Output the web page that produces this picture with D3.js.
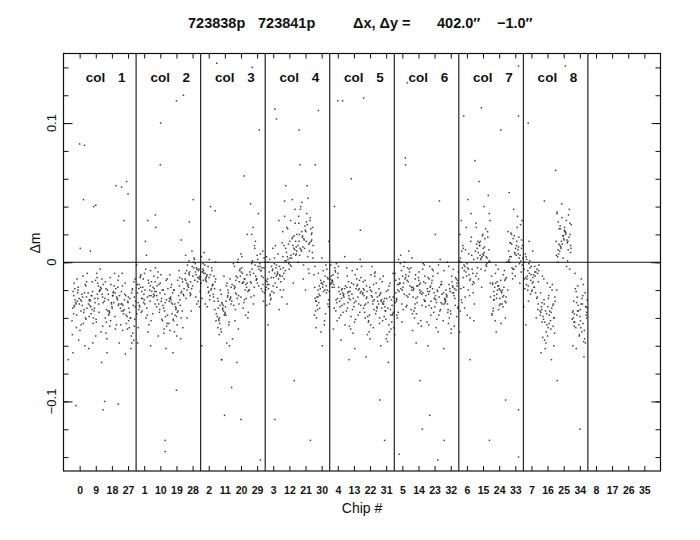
<!DOCTYPE html>
<html><head><meta charset="utf-8">
<script src="https://cdn.jsdelivr.net/npm/d3@7"></script>
<style>
html,body{margin:0;padding:0;background:#fff;}
svg{display:block;font-family:"Liberation Sans",Arial,sans-serif;}
</style></head>
<body>
<svg id="chart" width="700" height="540"></svg>
<script>
// Chip labels along the x axis (slot order)
const chipLabels = ["0","9","18","27","1","10","19","28","2","11","20","29","3","12","21","30",
  "4","13","22","31","5","14","23","32","6","15","24","33","7","16","25","34","8","17","26","35"];
const colLabels = ["1","2","3","4","5","6","7","8"];
const yMajorTicks = [-0.1, 0, 0.1];
const yMinorTicks = [-0.14,-0.12,-0.1,-0.08,-0.06,-0.04,-0.02,0,0.02,0.04,0.06,0.08,0.1,0.12,0.14];
const titleParts = ["723838p", "723841p", "\u0394x, \u0394y =", "402.0\u2033", "\u22121.0\u2033"];

// Δm values (in units of 0.001 mag), per chip, grouped by column
const col1 = [
 [-28,-15,-40,-22,-33,-10,-47,-25,-30,-19,-36,-52,-27,-12,-41,-24,-31,-18,-60,-29,-35,-21,-44,-26,-8,-38,-23,-32,-16,-49,-27,-34,-20,-42,-25,-30,-14,-56,-37,-22,-28,-45,-31,-17,85,-103,45,-65,10,-33],
 [-25,-13,-37,-20,-30,-8,-44,-23,-28,-17,-33,-50,-24,-11,-39,-21,-29,-16,-58,-26,-32,-19,-41,-24,-5,-35,-22,-30,-14,-46,-26,-31,-18,-40,-23,-27,-12,-53,-34,-20,-27,-43,-29,-15,8,-72,40,-62,-36,-21],
 [-31,-19,-8,-42,-26,-35,-22,-14,-48,-29,-24,-37,-17,-55,-27,-33,-20,-45,-11,-28,-39,-23,-30,-16,-51,-25,-36,-21,-43,-13,-32,-27,-19,-40,-24,-58,-29,-34,-18,-46,-26,-22,-38,-10,-30,-65,55,-100,-24,-35],
 [-35,-22,-48,-28,-15,-40,-31,-56,-25,-37,-19,-44,-33,-62,-27,-12,-39,-30,-51,-24,-36,-17,-46,-29,-34,-58,-21,-42,-32,-26,-49,-14,-38,-30,-53,-23,-41,-28,-35,-20,-45,-33,-66,-25,-8,-40,58,-31,30,-47]
];
const col2 = [
 [-20,-8,-32,-15,-26,-2,-38,-18,-24,-12,-29,-45,-21,-5,-34,-17,-27,-10,-50,-22,-30,-14,-40,-19,-28,-35,-16,-25,-9,-42,-23,-31,-13,-37,-20,-26,-6,-47,-33,-18,-24,-11,15,-58,30,-29,-21,-36,5,-16],
 [-24,-12,-36,-19,-29,-7,-41,-21,-27,-15,-32,-48,-23,-9,-38,-20,-30,-13,-53,-25,-33,-17,-44,-22,-4,-35,-18,-28,-11,-46,-24,-31,-16,-39,-21,-26,-10,-51,-34,-19,-27,-42,-14,-62,100,25,-23,-30,-37,-20],
 [-27,-14,-39,-22,-31,-9,-45,-24,-29,-18,-35,-50,-26,-11,-41,-23,-33,-16,-55,-28,-36,-20,-47,-25,-6,-38,-21,-30,-13,-49,-27,-34,-19,-42,-24,-29,-12,-53,-37,-22,-30,-44,-17,-65,120,-32,-26,-40,-20,-35],
 [-10,2,-20,-6,-14,5,-25,-9,-12,-3,-17,-30,-8,0,-22,-5,-15,-1,-35,-11,-18,-4,-26,-9,8,-21,-7,-13,-2,-28,-10,-16,-5,-23,-12,-7,1,-32,-19,-6,-14,-24,3,-40,-11,-17,-8,-4,-13,45]
];
const col3 = [
 [-12,0,-22,-8,-16,4,-27,-11,-14,-5,-19,-32,-10,-2,-24,-7,-17,-3,-37,-13,-20,-6,-28,-11,7,-23,-9,-15,-4,-30,-12,-18,-7,-25,-14,-9,-1,-34,-21,-8,-16,-26,2,-42,40,-13,-19,-10,-60,-6],
 [-30,-18,-42,-25,-35,-12,-48,-28,-33,-22,-38,-55,-29,-15,-44,-26,-36,-20,-60,-31,-39,-24,-50,-28,-10,-41,-27,-34,-17,-52,-30,-37,-23,-45,-28,-32,-16,-58,-40,-25,-33,-47,-20,-70,-90,-110,-31,-43,-26,-38],
 [-15,-3,-27,-10,-20,2,-33,-13,-18,-7,-23,-38,-14,-1,-29,-11,-21,-5,-42,-16,-24,-8,-34,-15,6,-26,-12,-19,-4,-36,-15,-22,-9,-30,-17,-12,0,-40,-25,-10,-20,-31,4,-48,20,-18,-14,-6,-26,-72],
 [-5,8,-15,0,-10,15,-20,-3,-8,3,-13,-25,-4,10,-17,-1,-11,5,-30,-6,-14,2,-22,-5,20,-16,-2,-9,6,-24,-4,-12,1,-19,-7,-3,12,-28,-15,-1,-10,-21,25,35,42,-6,-12,0,-18,95]
];
const col4 = [
 [-10,2,-20,-6,-14,6,-26,-8,-12,-3,-17,-30,-9,4,-22,-5,-15,0,-34,-11,-18,-2,-24,-10,10,-19,-7,-13,-1,-27,-9,-16,-4,-21,-12,-7,3,-31,-18,-5,-14,-23,12,-45,30,-11,-16,-8,-3,-20],
 [5,-8,15,0,10,-15,22,3,8,-3,12,28,4,-10,18,1,11,-5,33,6,14,-2,25,5,-20,17,2,9,-6,30,4,12,-1,20,7,3,-12,38,15,1,10,24,-25,45,55,6,13,-4,19,-30],
 [15,3,27,10,20,-2,33,13,18,7,23,40,14,0,29,11,21,5,46,16,24,8,35,15,-8,26,12,19,4,38,15,22,9,30,17,12,-5,43,25,10,20,32,-12,55,70,16,-20,22,8,28],
 [-20,-8,-32,-15,-25,-2,-38,-18,-23,-12,-28,-45,-19,-5,-34,-16,-26,-10,-50,-21,-29,-14,-40,-20,3,-31,-17,-24,-9,-42,-20,-27,-13,-35,-22,-17,-6,-47,-30,-15,-25,-37,-3,-60,15,-21,-28,-11,-33,-18]
];
const col5 = [
 [-18,-6,-30,-13,-23,-1,-36,-16,-21,-10,-26,-42,-17,-4,-32,-14,-24,-8,-48,-19,-27,-12,-38,-18,4,-29,-15,-22,-7,-40,-18,-25,-11,-33,-20,-15,-3,-45,-28,-13,-23,-35,-2,-56,40,-19,-26,-9,-31,-16],
 [-21,-9,-33,-16,-26,-3,-39,-19,-24,-13,-29,-46,-20,-6,-35,-17,-27,-11,-51,-22,-30,-15,-41,-21,2,-32,-18,-25,-10,-43,-21,-28,-14,-36,-23,-18,-5,-48,-31,-16,-26,-38,-4,-62,60,-22,-29,-12,-34,-19],
 [-25,-13,-37,-20,-30,-8,-43,-23,-28,-17,-33,-50,-24,-10,-39,-21,-31,-15,-55,-26,-34,-19,-45,-25,-3,-36,-22,-29,-14,-47,-25,-32,-18,-40,-27,-22,-9,-52,-35,-20,-30,-42,-7,-68,-24,-33,-16,-38,-28,-21],
 [-30,-17,-42,-25,-35,-12,-48,-28,-33,-22,-38,-55,-29,-15,-44,-26,-36,-20,-60,-31,-39,-24,-50,-30,-8,-41,-27,-34,-19,-52,-30,-37,-23,-45,-32,-27,-14,-57,-40,-25,-35,-47,-10,-72,-28,-43,-21,-33,-38,-26]
];
const col6 = [
 [-15,-3,-27,-10,-20,2,-32,-13,-18,-7,-23,-38,-14,-1,-29,-11,-21,-5,-43,-16,-24,-8,-34,-15,8,-26,-12,-19,-4,-36,-15,-22,-9,-30,-17,-12,0,-40,-25,-10,-20,-31,5,-52,75,-16,-23,-6,-28,-13],
 [-20,-7,-32,-15,-25,-2,-37,-18,-23,-12,-28,-44,-19,-5,-34,-16,-26,-10,-49,-21,-29,-14,-40,-20,3,-31,-17,-24,-9,-42,-20,-27,-13,-35,-22,-17,-4,-46,-30,-15,-25,-37,-1,-58,-22,-18,-28,-11,-33,-120],
 [-21,-8,-33,-16,-26,-3,-38,-19,-24,-13,-29,-45,-20,-6,-35,-17,-27,-11,-50,-22,-30,-15,-41,-21,2,-32,-18,-25,-10,-43,-21,-28,-14,-36,-23,-18,-5,-47,-31,-16,-26,-38,-2,-60,20,-23,-29,-12,-34,-19],
 [-22,-10,-34,-17,-27,-5,-40,-20,-25,-14,-30,-46,-21,-7,-36,-18,-28,-12,-51,-23,-31,-16,-42,-22,0,-33,-19,-26,-11,-44,-22,-29,-15,-37,-24,-19,-6,-48,-32,-17,-27,-39,-3,-62,-24,-30,-13,-35,-20,-26]
];
const col7 = [
 [-5,12,-20,3,-12,25,-30,-2,-9,8,-16,-38,-4,18,-25,1,-13,10,-42,-7,-19,5,-33,-5,30,-22,-1,-11,15,-35,-4,-15,6,-27,-8,-3,20,-40,-18,2,-10,-29,35,-50,45,-6,-14,0,-24,9],
 [5,-6,15,0,10,-12,22,3,8,-2,12,30,4,-8,18,2,11,-4,35,6,14,-1,25,5,-15,17,3,9,-5,28,4,12,0,20,7,3,-10,40,15,1,10,24,-18,48,58,7,13,-3,19,-25],
 [-20,-10,-30,-15,-25,-5,-35,-18,-23,-13,-27,-40,-19,-8,-32,-16,-26,-11,-44,-21,-28,-14,-37,-20,-2,-29,-17,-24,-9,-38,-20,-26,-12,-33,-22,-17,-6,-42,-30,-15,-25,-34,0,-50,-21,-27,-13,-31,-18,-24],
 [5,-5,15,0,10,-10,20,3,8,-3,12,25,4,-7,17,1,11,-4,30,6,14,-1,22,5,-12,16,2,9,-5,27,4,12,0,18,7,3,-8,33,14,1,10,21,-15,38,-20,6,13,-2,19,50]
];
const col8 = [
 [-10,0,-20,-6,-14,4,-25,-8,-12,-3,-17,-30,-9,2,-22,-5,-15,-1,-34,-11,-18,-4,-26,-10,8,-19,-7,-13,-2,-28,-9,-16,-5,-21,-12,-7,1,-32,-18,-6,-14,-23,6,-40,15,-11,-45,-8,-3,-20],
 [-35,-22,-48,-30,-40,-15,-54,-33,-38,-26,-43,-60,-34,-18,-50,-31,-41,-24,-65,-36,-45,-28,-56,-35,-10,-46,-32,-39,-20,-58,-35,-42,-27,-51,-37,-32,-16,-62,-44,-29,-40,-53,-12,-70,-36,-47,-25,-38,-43,-30],
 [15,5,25,10,20,0,30,13,18,8,22,35,14,3,27,11,21,6,38,16,24,9,32,15,-3,26,12,19,4,34,15,22,9,28,17,12,1,36,23,10,20,29,-5,42,-20,16,24,7,19,13],
 [-35,-22,-47,-30,-40,-16,-53,-33,-38,-26,-43,-58,-34,-19,-49,-31,-41,-24,-62,-36,-45,-28,-55,-35,-12,-46,-32,-39,-21,-57,-35,-42,-27,-50,-37,-32,-17,-60,-44,-29,-40,-52,-8,-68,-36,-47,-25,-38,-43,-30]
];
const columns = [col1, col2, col3, col4, col5, col6, col7, col8];

// position of each star across its chip (fraction of the chip's slot width)
const chipPos = [0.62,0.15,0.88,0.37,0.05,0.71,0.29,0.94,0.48,0.19,0.77,0.03,0.56,0.33,0.91,0.12,0.67,0.41,0.84,0.24,
  0.58,0.08,0.73,0.46,0.99,0.31,0.64,0.17,0.86,0.52,0.21,0.79,0.39,0.01,0.69,0.27,0.95,0.44,0.11,0.81,
  0.35,0.60,0.14,0.90,0.50,0.26,0.75,0.07,0.54,0.97];

// scattered outliers: [chip slot position, Δm in 0.001 mag]
const outlierSlot = [0.3,1.0,2.6,3.0,1.45,-0.7,2.4,6.0,4.7,6.8,5.0,6.3,6.0,5.3,4.4,8.5,10.7,12.1,12.2,8.4,10.2,8.8,10.0,
  14.8,13.6,14.6,12.7,12.1,13.3,14.3,16.0,16.3,17.6,17.4,16.7,18.6,18.9,20.3,20.2,22.3,21.1,22.6,21.7,
  23.8,24.9,24.5,26.1,24.2,25.4,26.4,27.2,30.1,27.2,27.8,28.8,29.5,27.2,29.6,31.0,5.3,11.2,19.8,22.2,27.2];
const outlierDm = [84,41,54,49,-106,-70,-102,116,34,29,70,16,-92,-128,-60,143,140,110,103,37,62,-70,-113,
  109,95,70,44,-113,-85,-128,116,116,118,23,-70,-99,-128,129,70,44,-85,-128,-110,
  105,111,73,95,-70,-128,-99,141,141,105,100,44,66,-106,-85,-120,-136,-142,-138,-142,-140];

const svg = d3.select("#chart");
const L = 63.5, R = 660.5, T = 53.5, B = 471;
const x = d3.scaleLinear().domain([-1, 36]).range([L, R]);
const y = d3.scaleLinear().domain([-0.15, 0.15]).range([B, T]);
const ink = "#111";

// points (spread across each chip's slot)
const pts = [];
columns.forEach((col, c) => col.forEach((vals, r) => {
  const slot = c * 4 + r;
  vals.forEach((v, i) => pts.push({xv: slot - 0.48 + 0.96 * chipPos[(i + 7 * slot) % chipPos.length], yv: v / 1000}));
}));
outlierSlot.forEach((s, i) => pts.push({xv: s, yv: outlierDm[i] / 1000}));
svg.append("g").selectAll("rect").data(pts.filter(p => Math.abs(p.yv) < 0.149)).join("rect")
  .attr("x", d => x(d.xv) - 0.75).attr("y", d => y(d.yv) - 0.75)
  .attr("width", 1.5).attr("height", 1.5).attr("fill", "#222").attr("opacity", 0.85);

// axes: x ticks top & bottom
const xAxisB = d3.axisBottom(x).tickValues(d3.range(36)).tickSizeInner(-5).tickSizeOuter(0)
  .tickFormat(i => chipLabels[i]).tickPadding(10);
const gxb = svg.append("g").attr("transform", `translate(0,${B})`).call(xAxisB);
gxb.selectAll("text").attr("y", null).attr("dy", null).attr("transform", "translate(0,23)")
  .attr("font-size", 10.5).attr("font-weight", "bold").attr("fill", ink)
  .attr("font-family", "'Liberation Sans',Arial,sans-serif");
const xAxisT = d3.axisTop(x).tickValues(d3.range(36)).tickSizeInner(-5).tickSizeOuter(0).tickFormat("");
svg.append("g").attr("transform", `translate(0,${T})`).call(xAxisT);

// y ticks left & right (minor and major)
const yMinL = d3.axisLeft(y).tickValues(yMinorTicks).tickSizeInner(-5).tickSizeOuter(0).tickFormat("");
const yMajL = d3.axisLeft(y).tickValues(yMajorTicks).tickSizeInner(-9).tickSizeOuter(0).tickFormat("");
const yMinR = d3.axisRight(y).tickValues(yMinorTicks).tickSizeInner(-5).tickSizeOuter(0).tickFormat("");
const yMajR = d3.axisRight(y).tickValues(yMajorTicks).tickSizeInner(-9).tickSizeOuter(0).tickFormat("");
svg.append("g").attr("transform", `translate(${L},0)`).call(yMinL);
svg.append("g").attr("transform", `translate(${L},0)`).call(yMajL);
svg.append("g").attr("transform", `translate(${R},0)`).call(yMinR);
svg.append("g").attr("transform", `translate(${R},0)`).call(yMajR);
svg.selectAll(".domain").remove();
svg.selectAll(".tick line").attr("stroke", ink).attr("stroke-width", 1);

// y tick labels (rotated)
svg.append("g").selectAll("text").data(yMajorTicks).join("text")
  .attr("transform", d => `translate(56,${y(d)}) rotate(-90)`)
  .attr("text-anchor", "middle").attr("font-size", 13).attr("fill", ink)
  .text(d => d === 0 ? "0" : (d < 0 ? "\u2212" : "") + Math.abs(d).toFixed(1));

// column dividers and zero line
svg.append("g").selectAll("line").data(d3.range(1, 9)).join("line")
  .attr("x1", d => x(d * 4 - 0.5)).attr("x2", d => x(d * 4 - 0.5))
  .attr("y1", T).attr("y2", B).attr("stroke", ink).attr("stroke-width", 1.1);
svg.append("line").attr("x1", L).attr("x2", R).attr("y1", y(0)).attr("y2", y(0))
  .attr("stroke", ink).attr("stroke-width", 1.1);

// frame
svg.append("rect").attr("x", L).attr("y", T).attr("width", R - L).attr("height", B - T)
  .attr("fill", "none").attr("stroke", ink).attr("stroke-width", 1.2);

// column labels
const cl = svg.append("g").selectAll("g").data(colLabels).join("g")
  .attr("transform", (d, i) => `translate(${x(i * 4 + 1.5)},82)`)
  .attr("font-size", 13.5).attr("font-weight", "bold").attr("fill", ink);
cl.append("text").attr("x", -18).text("col");
cl.append("text").attr("x", 18).attr("text-anchor", "middle").text(d => d);

// axis titles
svg.append("text").attr("x", (L + R) / 2).attr("y", 513).attr("text-anchor", "middle")
  .attr("font-size", 14).attr("fill", ink).text("Chip #");
svg.append("text").attr("transform", "translate(40,243) rotate(-90)").attr("text-anchor", "middle")
  .attr("font-size", 14).attr("fill", ink).text("\u0394m");

// title
const titleX = [188, 258, 353, 437, 497];
svg.append("g").selectAll("text").data(titleParts).join("text")
  .attr("x", (d, i) => titleX[i]).attr("y", 28)
  .attr("font-size", 14.5).attr("font-weight", "bold").attr("fill", ink).text(d => d);
</script>
</body></html>
